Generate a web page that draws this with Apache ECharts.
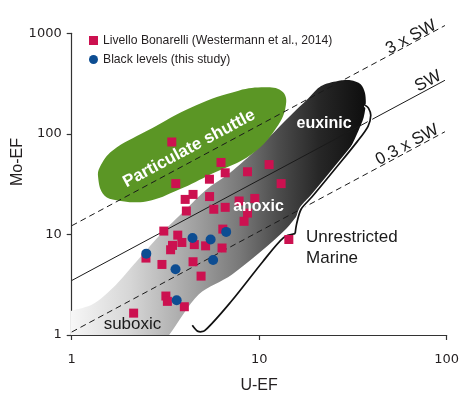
<!DOCTYPE html>
<html>
<head>
<meta charset="utf-8">
<script src="https://cdn.jsdelivr.net/npm/echarts@6/dist/echarts.min.js"></script>
<style>
  html, body { margin: 0; padding: 0; background: #ffffff; }
  #chart { width: 462px; height: 399px; }
</style>
</head>
<body>
<div id="chart"></div>
<script>
// Mo-EF versus U-EF cross-plot (log–log)
const FONT = '"Liberation Sans", Arial, sans-serif';

const xTicks = [1, 10, 100];
const yTicks = [1, 10, 100, 1000];

// Livello Bonarelli samples (Westermann et al., 2014)
const livelloU  = [3.42, 3.59, 6.26, 6.59, 8.67, 11.3, 5.43, 13.1, 4.44, 4.03, 5.44, 4.09,
                   5.73, 6.59, 7.82, 9.48, 8.67, 8.31, 6.40, 3.10, 3.68, 3.87, 3.45, 3.37,
                   4.51, 5.18, 6.34, 2.49, 3.03, 4.44, 4.90, 3.18, 3.24, 3.99, 2.14, 14.4];
const livelloMo = [83, 32, 52, 41, 42, 49.5, 35.4, 32, 25, 22.3, 23.8, 17.1,
                   17.8, 18.6, 21.5, 22.8, 16.3, 13.5, 11.3, 10.8, 9.84, 8.32, 7.78, 7.04,
                   7.92, 7.70, 7.33, 5.82, 5.03, 5.35, 3.85, 2.44, 2.16, 1.91, 1.65, 8.9];

// Black levels (this study)
const blackU  = [4.41, 5.51, 6.67, 2.50, 3.58, 5.68, 3.63];
const blackMo = [9.2, 8.9, 10.6, 6.44, 4.5, 5.56, 2.22];

// Seawater Mo/U reference lines, endpoints as [U-EF, Mo-EF]
const lineSW3  = [[1, 12.2], [98, 1195]];
const lineSW   = [[1, 3.48], [98, 341]];
const lineSW03 = [[1, 1.07], [98, 105]];

// Redox field (suboxic -> anoxic -> euxinic), outline in [U-EF, Mo-EF]
const bandOutline = [
  [0.85, 0.8], [0.85, 1.62], [1.0, 1.74], [1.30, 2.03], [1.66, 2.95], [2.21, 5.36],
  [2.93, 9.73], [4.06, 17.7], [5.20, 27.7], [6.88, 40.1], [9.92, 72.9], [14.8, 154],
  [18.2, 223], [21.4, 299], [26.3, 336], [30.8, 342], [34.8, 312], [36.7, 255],
  [37.0, 191], [35.6, 134], [28.6, 58.3], [18.9, 23.8], [13.95, 11.4], [7.14, 3.98],
  [4.77, 2.54], [3.31, 1.0], [3.0, 0.8]
];

// Particulate shuttle field
const shuttleOutline = [
  [1.383, 37.3], [1.464, 25.6], [1.654, 22.3], [2.494, 21.3], [3.74, 27.9], [5.59, 40.1],
  [9.11, 62.8], [12.65, 122.8], [13.95, 209], [13.12, 269], [10.76, 290], [7.77, 269],
  [4.585, 192], [2.494, 106], [1.654, 68.2], [1.412, 46.6]
];

// Brace marking the unrestricted marine trend
const braceLower = [[4.40, 1.25], [4.72, 1.086], [5.14, 1.11], [7.14, 2.19], [10.45, 5.36],
                    [13.5, 9.3], [15.56, 10.18]];
const braceUpper = [[15.56, 10.18], [15.85, 12.73], [16.74, 17.8], [19.21, 23.8], [26.3, 48.4],
                    [33.5, 84.7], [38.1, 119], [39.4, 153], [38.3, 180], [36.7, 193]];

const pairs = (xs, ys) => xs.map((x, i) => [x, ys[i]]);

function slopeAngle(api) {
  const a = api.coord([1, 1]);
  const b = api.coord([10, 10]);
  return Math.atan2(a[1] - b[1], b[0] - a[0]);
}

function renderBand(params, api) {
  const pts = bandOutline.map(p => api.coord(p));
  const a = api.coord([1, 1]);
  const b = api.coord([37, 1]);
  return {
    type: 'polygon',
    shape: { points: pts, smooth: 0.3 },
    style: {
      fill: new echarts.graphic.LinearGradient(a[0], 0, b[0], 0, [
        { offset: 0, color: '#f6f6f6' },
        { offset: 0.2, color: '#d6d6d6' },
        { offset: 0.43, color: '#9e9e9e' },
        { offset: 0.57, color: '#797979' },
        { offset: 0.7, color: '#4d4d4d' },
        { offset: 0.84, color: '#272727' },
        { offset: 1, color: '#0e0e0e' }
      ], true),
      stroke: null
    }
  };
}

function renderShuttle(params, api) {
  return {
    type: 'polygon',
    shape: { points: shuttleOutline.map(p => api.coord(p)), smooth: 0.4 },
    style: { fill: '#5b9625', stroke: null }
  };
}

function renderBrace(params, api) {
  const lower = braceLower.map(p => api.coord(p));
  const upper = braceUpper.map(p => api.coord(p));
  const halo = { stroke: '#ffffff', lineWidth: 4, fill: null };
  const ink = { stroke: '#111111', lineWidth: 1.7, fill: null };
  return {
    type: 'group',
    children: [
      { type: 'polyline', shape: { points: lower, smooth: 0.3 }, style: halo },
      { type: 'polyline', shape: { points: upper, smooth: 0.3 }, style: halo },
      { type: 'polyline', shape: { points: lower, smooth: 0.3 }, style: ink },
      { type: 'polyline', shape: { points: upper, smooth: 0.3 }, style: ink }
    ]
  };
}

function textEl(api, at, text, font, fill, rot, align) {
  const p = api.coord(at);
  return {
    type: 'text',
    x: p[0], y: p[1],
    rotation: rot || 0,
    style: {
      text: text, font: font, fill: fill,
      align: align || 'center', verticalAlign: 'middle', lineHeight: 21
    }
  };
}

function renderLabels(params, api) {
  const rot = slopeAngle(api);
  return {
    type: 'group',
    children: [
      textEl(api, [4.23, 71.3], 'Particulate shuttle', 'bold 17px ' + FONT, '#ffffff', rot),
      textEl(api, [22.2, 127.6], 'euxinic', 'bold 16px ' + FONT, '#ffffff', 0),
      textEl(api, [9.92, 19.05], 'anoxic', 'bold 16px ' + FONT, '#ffffff', 0),
      textEl(api, [2.11, 1.27], 'suboxic', '17px ' + FONT, '#1a1a1a', 0),
      textEl(api, [17.8, 7.44], 'Unrestricted\nMarine', '17px ' + FONT, '#1a1a1a', 0, 'left'),
      textEl(api, [64.7, 914], '3 x SW', '17px ' + FONT, '#1a1a1a', rot),
      textEl(api, [79.6, 334], 'SW', '17px ' + FONT, '#1a1a1a', rot),
      textEl(api, [61.6, 78], '0.3 x SW', '17px ' + FONT, '#1a1a1a', rot)
    ]
  };
}

const NAME_LIV = 'Livello Bonarelli (Westermann et al., 2014)';
const NAME_BLK = 'Black levels (this study)';

const refLine = (data, dashed) => ({
  type: 'line',
  data: data,
  symbol: 'none',
  silent: true,
  clip: false,
  z: 3,
  lineStyle: { color: '#1a1a1a', width: 1, type: dashed ? [6, 4] : 'solid' }
});

const axisCommon = {
  type: 'log',
  logBase: 10,
  axisLine: { show: true, lineStyle: { color: '#333333', width: 1.2 } },
  axisTick: { show: true, inside: false, length: 5, lineStyle: { color: '#333333', width: 1.2 } },
  minorTick: { show: false },
  splitLine: { show: false },
  minorSplitLine: { show: false }
};

const tickText = v => String(Math.round(v));

const chart = echarts.init(document.getElementById('chart'), null, { renderer: 'canvas' });

chart.setOption({
  animation: false,
  backgroundColor: '#ffffff',
  grid: { left: 71.7, right: 12.7, top: 33.3, bottom: 57.3, containLabel: false },
  legend: {
    orient: 'vertical',
    left: 84,
    top: 29,
    itemWidth: 9,
    itemHeight: 9,
    itemGap: 6,
    textStyle: { fontFamily: FONT, fontSize: 12.2, color: '#231f20', lineHeight: 13 },
    data: [
      { name: NAME_LIV, icon: 'rect' },
      { name: NAME_BLK, icon: 'circle' }
    ]
  },
  xAxis: Object.assign({}, axisCommon, {
    min: xTicks[0],
    max: xTicks[xTicks.length - 1],
    name: 'U-EF',
    nameLocation: 'middle',
    nameGap: 43,
    nameTextStyle: { fontFamily: FONT, fontSize: 16, color: '#231f20' },
    axisLabel: { margin: 18, formatter: tickText, fontFamily: '"DejaVu Sans", sans-serif', fontSize: 13, color: '#231f20' }
  }),
  yAxis: Object.assign({}, axisCommon, {
    min: yTicks[0],
    max: yTicks[yTicks.length - 1],
    axisLabel: { margin: 10, formatter: tickText, fontFamily: '"DejaVu Sans", sans-serif', fontSize: 13, color: '#231f20' }
  }),
  graphic: [{
    type: 'text',
    x: 18, y: 162,
    rotation: Math.PI / 2,
    style: { text: 'Mo-EF', font: '16px ' + FONT, fill: '#231f20', align: 'center', verticalAlign: 'middle' }
  }],
  series: [
    { type: 'custom', renderItem: renderBand, data: [[1, 1]], clip: true, silent: true, z: 1 },
    { type: 'custom', renderItem: renderShuttle, data: [[1, 1]], clip: true, silent: true, z: 2 },
    refLine(lineSW3, true),
    refLine(lineSW, false),
    refLine(lineSW03, true),
    { type: 'custom', renderItem: renderBrace, data: [[1, 1]], clip: false, silent: true, z: 4 },
    {
      name: NAME_LIV,
      type: 'scatter',
      data: pairs(livelloU, livelloMo),
      symbol: 'rect',
      symbolSize: 9,
      itemStyle: { color: '#cc1150', opacity: 1 },
      z: 5
    },
    {
      name: NAME_BLK,
      type: 'scatter',
      data: pairs(blackU, blackMo),
      symbol: 'circle',
      symbolSize: 10,
      itemStyle: { color: '#0d4d92', opacity: 1 },
      z: 6
    },
    { type: 'custom', renderItem: renderLabels, data: [[1, 1]], clip: false, silent: true, z: 7 }
  ]
});
</script>
</body>
</html>
